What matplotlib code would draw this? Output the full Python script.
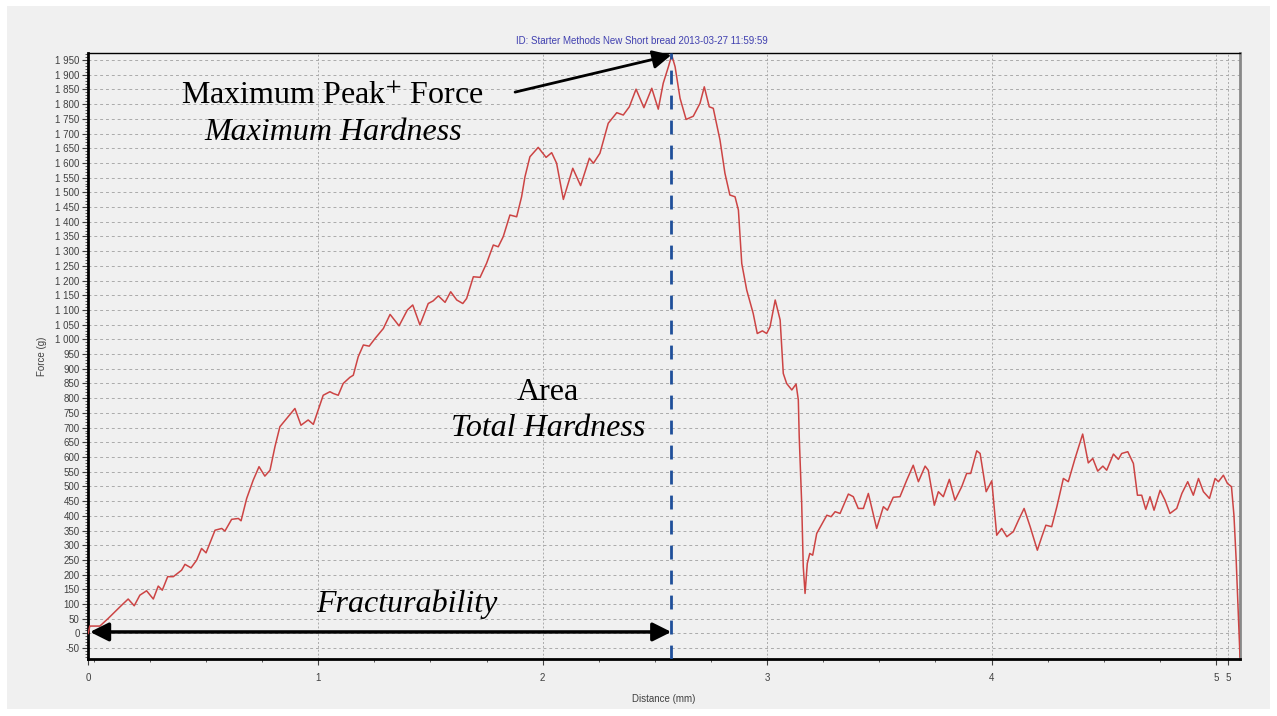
import numpy as np
import matplotlib.pyplot as plt
from matplotlib.patches import Rectangle
from matplotlib.ticker import FuncFormatter, MultipleLocator

plt.rcParams['mathtext.fontset'] = 'stix'
plt.rcParams['font.family'] = ['Liberation Sans', 'DejaVu Sans']

# force-distance curve
distance = [-0.025, -0.018, 0.027, 0.064, 0.124, 0.153, 0.180, 0.205, 0.235, 0.265,
            0.287, 0.305, 0.329, 0.354, 0.391, 0.406, 0.433, 0.458, 0.480, 0.500,
            0.540, 0.570, 0.584, 0.614, 0.644, 0.656, 0.681, 0.710, 0.736, 0.762,
            0.785, 0.807, 0.829, 0.866, 0.896, 0.923, 0.955, 0.978, 1.022, 1.052,
            1.067, 1.089, 1.111, 1.141, 1.156, 1.178, 1.201, 1.227, 1.253, 1.290,
            1.320, 1.360, 1.397, 1.421, 1.453, 1.490, 1.512, 1.535, 1.565, 1.590,
            1.617, 1.644, 1.661, 1.691, 1.721, 1.750, 1.780, 1.802, 1.824, 1.854,
            1.884, 1.906, 1.921, 1.943, 1.980, 2.015, 2.040, 2.062, 2.092, 2.134,
            2.169, 2.208, 2.226, 2.255, 2.292, 2.330, 2.359, 2.386, 2.416, 2.451,
            2.486, 2.515, 2.537, 2.560, 2.575, 2.590, 2.612, 2.639, 2.671, 2.701,
            2.720, 2.742, 2.760, 2.790, 2.812, 2.834, 2.857, 2.872, 2.887, 2.909,
            2.938, 2.956, 2.979, 2.998, 3.013, 3.036, 3.058, 3.072, 3.087, 3.110,
            3.129, 3.139, 3.143, 3.154, 3.161, 3.169, 3.179, 3.190, 3.203, 3.221,
            3.243, 3.266, 3.285, 3.303, 3.325, 3.362, 3.384, 3.406, 3.429, 3.451,
            3.488, 3.518, 3.536, 3.562, 3.592, 3.622, 3.651, 3.674, 3.704, 3.718,
            3.745, 3.763, 3.785, 3.812, 3.837, 3.867, 3.889, 3.907, 3.934, 3.949,
            3.976, 4.001, 4.023, 4.045, 4.068, 4.097, 4.120, 4.145, 4.172, 4.204,
            4.224, 4.242, 4.268, 4.291, 4.320, 4.342, 4.372, 4.406, 4.431, 4.451,
            4.473, 4.496, 4.513, 4.543, 4.565, 4.580, 4.607, 4.632, 4.650, 4.669,
            4.687, 4.706, 4.724, 4.751, 4.773, 4.795, 4.825, 4.848, 4.874, 4.899,
            4.922, 4.944, 4.971, 4.996, 5.011, 5.033, 5.051, 5.069, 5.080, 5.090,
            5.098, 5.107]
force = [0, 25, 25, 51, 96, 117, 94, 130, 145, 117,
         161, 147, 193, 193, 215, 235, 223, 249, 289, 274,
         351, 357, 348, 388, 391, 383, 459, 521, 567, 535,
         555, 635, 703, 737, 765, 708, 726, 711, 810, 822,
         816, 810, 850, 871, 878, 941, 981, 977, 1003, 1037,
         1085, 1046, 1100, 1117, 1049, 1122, 1131, 1148, 1126, 1162,
         1134, 1122, 1139, 1213, 1211, 1259, 1321, 1315, 1349, 1423,
         1417, 1485, 1553, 1621, 1653, 1619, 1635, 1599, 1476, 1582,
         1523, 1616, 1599, 1633, 1735, 1771, 1763, 1791, 1851, 1788,
         1854, 1783, 1871, 1927, 1967, 1927, 1820, 1748, 1759, 1803,
         1859, 1791, 1786, 1678, 1565, 1491, 1485, 1440, 1258, 1168,
         1088, 1020, 1029, 1020, 1043, 1134, 1066, 884, 850, 828,
         848, 794, 669, 442, 227, 136, 238, 272, 266, 340,
         370, 402, 397, 414, 408, 474, 465, 425, 425, 476,
         357, 431, 419, 463, 465, 521, 572, 516, 569, 555,
         436, 482, 465, 524, 453, 499, 544, 544, 621, 612,
         482, 519, 334, 357, 329, 346, 385, 425, 363, 283,
         329, 368, 363, 431, 527, 516, 595, 678, 580, 595,
         552, 569, 555, 610, 592, 612, 618, 578, 470, 470,
         422, 465, 419, 487, 453, 408, 425, 476, 516, 470,
         527, 482, 459, 527, 516, 538, 510, 499, 402, 249,
         90, -80]

x_min, x_max = -0.026, 5.107
y_min, y_max = -87, 1974
x_ticks = [x_min, 1, 2, 3, 4, 5.0, 5.055]
x_tick_labels = ['0', '1', '2', '3', '4', '5', '5']
y_ticks = list(range(-50, 2000, 50))
peak_x = 2.573

title = 'ID: Starter Methods New Short bread 2013-03-27 11:59:59'

fig = plt.figure(figsize=(12.77, 7.16), dpi=100, facecolor='white')
fig.patches.append(Rectangle((7 / 1277, 7 / 716), 1263 / 1277, 703 / 716,
                             transform=fig.transFigure, facecolor='#f0f0f0',
                             edgecolor='none', zorder=-1))
ax = fig.add_axes([88 / 1277, 1 - 659 / 716, 1152 / 1277, 606 / 716])
ax.set_facecolor('#f0f0f0')

ax.plot(distance, force, color='#cc4444', lw=1.1, zorder=3,
        solid_joinstyle='round')
ax.axvline(peak_x, color='#1f4f9a', lw=2, ls=(0, (5, 4)), zorder=4)

ax.set_xlim(x_min, x_max)
ax.set_ylim(y_min, y_max)
ax.set_xticks(x_ticks)
ax.set_xticklabels(x_tick_labels)
ax.set_yticks(y_ticks)
ax.yaxis.set_major_formatter(FuncFormatter(lambda v, p: f'{int(v):,}'.replace(',', ' ')))
ax.yaxis.set_minor_locator(MultipleLocator(10))
ax.xaxis.set_minor_locator(MultipleLocator(0.25))
ax.tick_params(axis='both', which='major', labelsize=7, labelcolor='#404040',
               color='#404040', length=4, width=0.8, pad=2)
ax.tick_params(axis='x', which='major', pad=6)
ax.tick_params(axis='both', which='minor', color='#404040', length=2, width=0.6)

ax.grid(axis='y', which='major', color='#aaaaaa', lw=0.7, ls=(0, (3, 3)))
ax.grid(axis='x', which='major', color='#aaaaaa', lw=0.7, ls=(0, (2, 2)))

for side in ['left', 'bottom']:
    ax.spines[side].set_linewidth(2)
    ax.spines[side].set_color('black')
ax.spines['top'].set_linewidth(1)
ax.spines['right'].set_linewidth(2)
ax.spines['right'].set_color('#888888')

ax.set_xlabel('Distance (mm)', fontsize=7, color='#404040', labelpad=8)
ax.set_ylabel('Force (g)', fontsize=7, color='#404040', labelpad=6)
fig.text(642 / 1277, 1 - 41 / 716, title, fontsize=7, color='#4040b0',
         ha='center', va='center')

serif = 'Liberation Serif'
ax.text(1.061, 1827, r'Maximum Peak$^{+}$ Force', family=serif, fontsize=23,
        ha='center', va='center')
ax.text(1.065, 1705, 'Maximum Hardness', family=serif, style='italic',
        fontsize=23, ha='center', va='center')
ax.text(2.024, 821, 'Area', family=serif, fontsize=23, ha='center', va='center')
ax.text(2.024, 698, 'Total Hardness', family=serif, style='italic', fontsize=23,
        ha='center', va='center')
ax.text(1.395, 100, 'Fracturability', family=serif, style='italic', fontsize=23,
        ha='center', va='center')

ax.annotate('', xy=(peak_x, 1967), xytext=(1.877, 1841),
            arrowprops=dict(arrowstyle='-|>', color='black', lw=2,
                            mutation_scale=28, shrinkA=0, shrinkB=0))
ax.annotate('', xy=(-0.017, 5), xytext=(peak_x, 5),
            arrowprops=dict(arrowstyle='<|-|>', color='black', lw=2.5,
                            mutation_scale=28, shrinkA=0, shrinkB=0))

fig.savefig('out.png', dpi=100, facecolor='white')
